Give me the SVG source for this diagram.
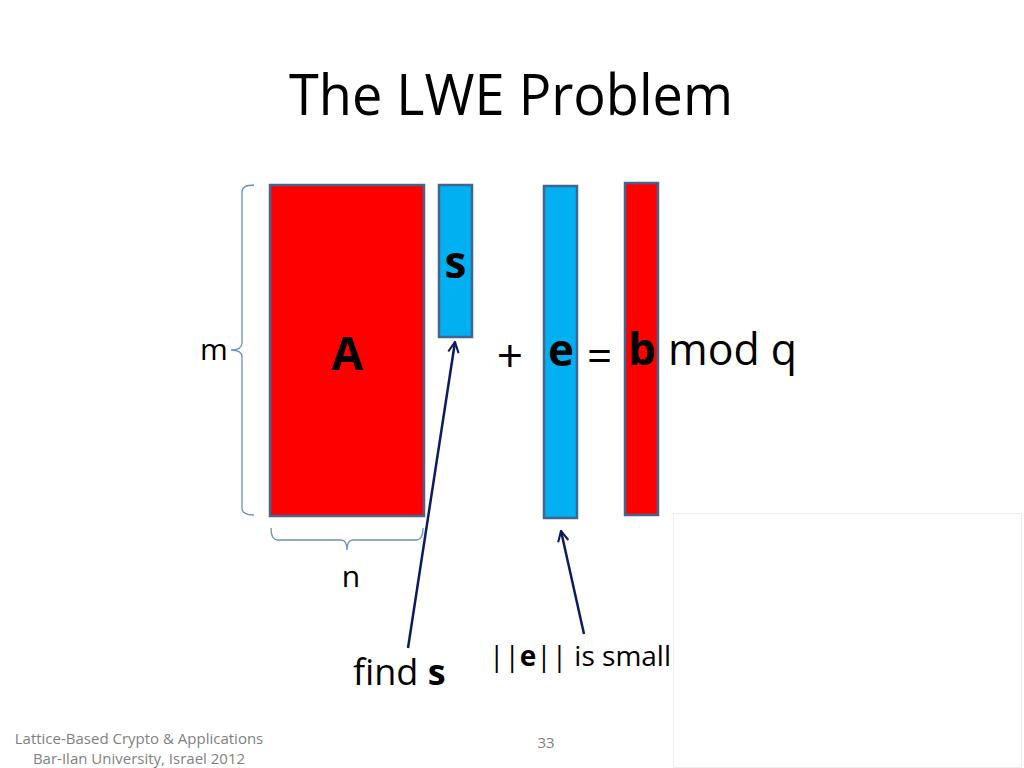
<svg xmlns="http://www.w3.org/2000/svg" width="1024" height="768" viewBox="0 0 1024 768">
<defs>
<style>
.t{font-family:"Open Sans","Noto Sans","Liberation Sans",sans-serif;fill:#000}
.b{font-weight:bold}
.mat{stroke:#41658F;stroke-width:2.5}
.red{fill:#FF0000}
.blue{fill:#00B0F0}
.brace{fill:none;stroke:#6F8FC0;stroke-width:1.3}
.arr{stroke:#0D1B5E;stroke-width:2.5;fill:none;marker-end:url(#ah)}
.foot{font-family:"Open Sans","Noto Sans","Liberation Sans",sans-serif;fill:#7F7F7F;font-size:15px}
</style>
<marker id="ah" viewBox="0 0 12 12" refX="11" refY="6" markerWidth="5" markerHeight="5" orient="auto" markerUnits="strokeWidth">
<path d="M1,1 L11,6 L1,11" fill="none" stroke="#0D1B5E" stroke-width="2"/>
</marker>
</defs>
<rect width="1024" height="768" fill="#FFFFFF"/>
<text class="t" x="289" y="115" font-size="56" textLength="444" lengthAdjust="spacingAndGlyphs">The LWE Problem</text>

<g id="matrixA">
<rect class="mat red" x="270" y="185" width="154" height="331"/>
<text class="t b" x="347" y="370" font-size="46" text-anchor="middle">A</text>
</g>
<g id="vectorS">
<rect class="mat blue" x="439" y="185" width="33" height="152"/>
<text class="t b" x="455.5" y="278" font-size="44" text-anchor="middle">s</text>
</g>
<g id="vectorE">
<rect class="mat blue" x="544" y="186" width="33" height="332"/>
<text class="t b" x="561" y="366" font-size="44" text-anchor="middle">e</text>
</g>
<g id="vectorB">
<rect class="mat red" x="625" y="183" width="33" height="332"/>
<text class="t b" x="642" y="365" font-size="44" text-anchor="middle">b</text>
</g>
<g id="operators">
<text class="t" x="510" y="372" font-size="46" text-anchor="middle">+</text>
<text class="t" x="599.5" y="372" font-size="44" text-anchor="middle">=</text>
<text class="t" x="668" y="365" font-size="44" textLength="129" lengthAdjust="spacingAndGlyphs">mod q</text>
</g>
<g id="braceM">
<path class="brace" d="M254,185 Q242,185 242,192 L242,343 Q242,350 231,350 Q242,350 242,357 L242,508 Q242,515 254,515"/>
<text class="t" x="214" y="360" font-size="30" text-anchor="middle">m</text>
</g>
<g id="braceN">
<path class="brace" d="M271,528 Q271,540 278,540 L341,540 Q347,540 347,550 Q347,540 353,540 L416,540 Q423,540 423,528"/>
<text class="t" x="351" y="587" font-size="30" text-anchor="middle">n</text>
</g>
<g id="connectors">
<line class="arr" x1="408" y1="648" x2="455" y2="342"/>
<line class="arr" x1="584" y1="634" x2="561" y2="531"/>
</g>
<g id="labelFind">
<text class="t" x="353" y="685" font-size="36">find <tspan class="b">s</tspan></text>
</g>
<g id="labelSmall">
<text class="t" x="489" y="666" font-size="28">||<tspan class="b">e</tspan>|| is small</text>
</g>
<rect x="673.5" y="513.5" width="348" height="254" fill="none" stroke="#EDEDED" stroke-width="1"/>
<text class="foot" x="139" y="744" text-anchor="middle">Lattice-Based Crypto &amp; Applications</text>
<text class="foot" x="139" y="764" text-anchor="middle">Bar-Ilan University, Israel 2012</text>
<text class="foot" x="546" y="748" text-anchor="middle">33</text>
</svg>
